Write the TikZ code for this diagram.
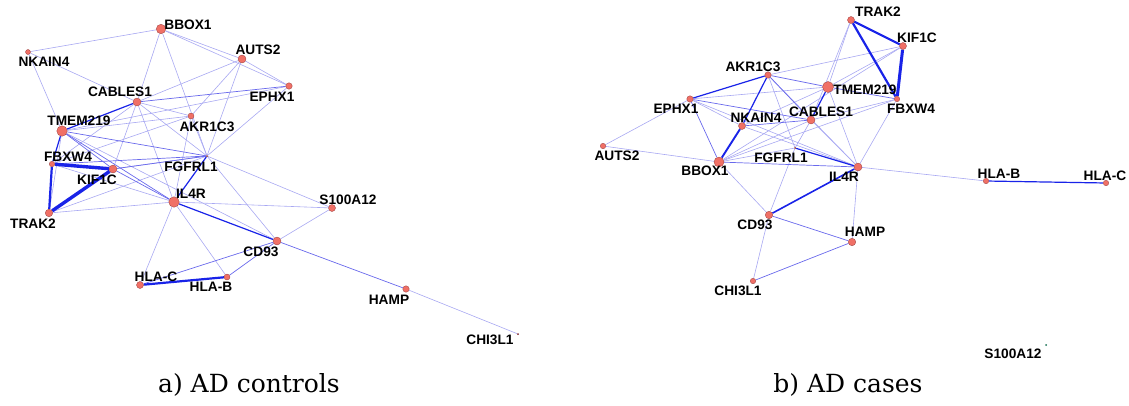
\documentclass[tikz,border=0pt]{standalone}
\usepackage{fontspec}
\newfontfamily\labfont{Liberation Sans}
\newfontfamily\capfont{DejaVu Serif}
\pgfdeclarelayer{bg}
\pgfsetlayers{bg,main}
\definecolor{edgelight}{RGB}{168,168,242}
\definecolor{edgemid}{RGB}{105,105,236}
\definecolor{edgestrong}{RGB}{25,35,232}
\definecolor{dotfill}{RGB}{240,112,102}
\definecolor{dotline}{RGB}{150,60,60}
\definecolor{tinyred}{RGB}{120,30,40}
\definecolor{tinygreen}{RGB}{20,110,80}
\tikzset{
  dot/.style={circle, draw=dotline, line width=0.3pt, fill=dotfill, inner sep=0pt},
  tinydot/.style={circle, fill=#1, inner sep=0pt, minimum size=2pt},
  lab/.style={font=\labfont\bfseries\fontsize{13.7}{13.7}\selectfont, inner sep=0pt, text=black},
  captext/.style={font=\capfont\fontsize{25}{25}\selectfont, inner sep=0pt, anchor=base, text=black},
  ea/.style={draw=edgelight, line width=0.6pt},
  eb/.style={draw=edgemid, line width=0.7pt},
  ec/.style={draw=edgestrong, line width=1.2pt},
  ed/.style={draw=edgestrong, line width=2.2pt},
  ee/.style={draw=edgestrong, line width=3.4pt},
}
\begin{document}
\begin{tikzpicture}[x=1pt,y=-1pt]
\useasboundingbox (0,0) rectangle (1129,405);

% ---------- a) AD controls: genes ----------
\foreach \n/\x/\y/\s in {
  BBOX1/161/29/9.5, NKAIN4/28/52/5, AUTS2/242/59/8, EPHX1/289/86/6.5,
  CABLES1/137/102/8, AKR1C3/191/116/6, TMEM219/62/131/10.5,
  FBXW4/52/164/5.5, KIF1C/113/169/8, IL4R/174/202/10.5, TRAK2/49/213/7.5,
  S100A12/332/208/7, CD93/277/241/8, HLAC/140/285/7, HLAB/227/277/6,
  HAMP/406/289/6.5}
  \node[dot, minimum size=\s pt] (a\n) at (\x,\y) {};
\node[tinydot=tinyred!70!dotline] (aFGFRL1) at (207,156) {};
\node[tinydot=tinyred] (aCHI3L1) at (518,334) {};

\foreach \n/\t/\x/\y in {
  BBOX1/BBOX1/188/25, NKAIN4/NKAIN4/44/62, AUTS2/AUTS2/258/50,
  EPHX1/EPHX1/272/97, CABLES1/CABLES1/120/92, AKR1C3/AKR1C3/207/127,
  TMEM219/TMEM219/79/121, FBXW4/FBXW4/68/157, FGFRL1/FGFRL1/191/167,
  KIF1C/KIF1C/97/180, IL4R/IL4R/191/194, TRAK2/TRAK2/33/224,
  S100A12/S100A12/348/200, CD93/CD93/261/252, HLAC/HLA-C/156/277,
  HLAB/HLA-B/211/287, HAMP/HAMP/389/300, CHI3L1/CHI3L1/490/340}
  \node[lab] (a\n-l) at (\x,\y) {\t};

% ---------- b) AD cases: genes ----------
\foreach \n/\x/\y/\s in {
  TRAK2/851/20/7, KIF1C/903/46/7, AKR1C3/768/75/6.5, TMEM219/828/87/11,
  EPHX1/690/99/6.5, FBXW4/897/99/5.5, CABLES1/811/120/8, NKAIN4/742/126/7,
  AUTS2/603/146/5.5, BBOX1/719/162/10, IL4R/858/167/8, HLAB/986/181/5.5,
  HLAC/1106/183/5.5, CD93/769/215/7.5, HAMP/852/242/7.5, CHI3L1/753/281/5.5}
  \node[dot, minimum size=\s pt] (b\n) at (\x,\y) {};
\node[tinydot=tinyred!70!dotline] (bFGFRL1) at (795,148) {};
\node[tinydot=tinygreen] (bS100A12) at (1046,345) {};

\foreach \n/\t/\x/\y in {
  TRAK2/TRAK2/878/12, KIF1C/KIF1C/917/38, AKR1C3/AKR1C3/753/67,
  TMEM219/TMEM219/865/90, EPHX1/EPHX1/676/109, FBXW4/FBXW4/911/109,
  CABLES1/CABLES1/821/112, NKAIN4/NKAIN4/756/118, AUTS2/AUTS2/617/156,
  FGFRL1/FGFRL1/781/158, BBOX1/BBOX1/705/171, IL4R/IL4R/844/177,
  HLAB/HLA-B/999/174, HLAC/HLA-C/1105/176, CD93/CD93/755/225,
  HAMP/HAMP/865/232, CHI3L1/CHI3L1/738/291, S100A12/S100A12/1013/354}
  \node[lab] (b\n-l) at (\x,\y) {\t};

% ---------- co-expression edges ----------
\begin{pgfonlayer}{bg}
% a) weak links
\foreach \u/\v in {
  BBOX1/NKAIN4, BBOX1/AUTS2, BBOX1/EPHX1, BBOX1/CABLES1, BBOX1/FGFRL1,
  NKAIN4/TMEM219, NKAIN4/CABLES1, AUTS2/EPHX1, AUTS2/CABLES1, AUTS2/AKR1C3,
  AUTS2/FGFRL1, EPHX1/TMEM219, EPHX1/FGFRL1, CABLES1/AKR1C3,
  CABLES1/FGFRL1, CABLES1/IL4R, CABLES1/FBXW4, CABLES1/KIF1C,
  TMEM219/AKR1C3, TMEM219/TRAK2, AKR1C3/FGFRL1, AKR1C3/IL4R, AKR1C3/FBXW4,
  FGFRL1/KIF1C, FGFRL1/TRAK2, FGFRL1/CD93, FGFRL1/S100A12, FBXW4/IL4R,
  TRAK2/IL4R, IL4R/HLAC, IL4R/HLAB, IL4R/S100A12, CD93/S100A12,
  HAMP/CHI3L1, TMEM219/CD93}
  \draw[ea] (a\u) -- (a\v);
% a) moderate links
\foreach \u/\v in {
  EPHX1/CABLES1, TMEM219/FGFRL1, TMEM219/IL4R, TMEM219/KIF1C,
  KIF1C/IL4R, CD93/HLAC, CD93/HLAB, CD93/HAMP, FBXW4/FGFRL1, KIF1C/FGFRL1}
  \draw[eb] (a\u) -- (a\v);
\draw[ec] (aCABLES1) -- (aTMEM219);
\draw[ec] (aTMEM219) -- (aFBXW4);
\draw[ec] (aFGFRL1) -- (aIL4R);
\draw[ec] (aIL4R) -- (aCD93);
\draw[ed] (aFBXW4) -- (aTRAK2);
\draw[ed] (aHLAC) -- (aHLAB);
\draw[ee] (aFBXW4) -- (aKIF1C);
\draw[ee] (aKIF1C) -- (aTRAK2);

% b) weak links
\foreach \u/\v in {
  TRAK2/TMEM219, TRAK2/CABLES1, KIF1C/AKR1C3, KIF1C/BBOX1, KIF1C/TMEM219,
  AKR1C3/FGFRL1, AKR1C3/IL4R, EPHX1/AUTS2, EPHX1/TMEM219, EPHX1/NKAIN4,
  EPHX1/IL4R, AUTS2/BBOX1, NKAIN4/IL4R, NKAIN4/TMEM219, CABLES1/FGFRL1,
  CABLES1/BBOX1, CABLES1/IL4R, CABLES1/FBXW4, FGFRL1/BBOX1, FGFRL1/CD93,
  BBOX1/CD93, BBOX1/FBXW4, IL4R/HAMP, IL4R/HLAB, IL4R/FBXW4, TMEM219/IL4R,
  CD93/CHI3L1}
  \draw[ea] (b\u) -- (b\v);
% b) moderate links
\foreach \u/\v in {
  EPHX1/CABLES1, AKR1C3/CABLES1, AKR1C3/TMEM219, EPHX1/BBOX1,
  NKAIN4/CABLES1, CD93/HAMP, HAMP/CHI3L1, BBOX1/IL4R, TMEM219/FBXW4}
  \draw[eb] (b\u) -- (b\v);
\draw[ec] (bHLAB) -- (bHLAC);
\draw[ec] (bFGFRL1) -- (bIL4R);
\draw[ec] (bAKR1C3) -- (bEPHX1);
\draw[ec] (bAKR1C3) -- (bNKAIN4);
\draw[ec] (bTMEM219) -- (bCABLES1);
\draw[ec, line width=1.6pt] (bIL4R) -- (bCD93);
\draw[ed, line width=1.9pt] (bNKAIN4) -- (bBBOX1);
\draw[ed] (bTRAK2) -- (bKIF1C);
\draw[ed] (bTRAK2) -- (bFBXW4);
\draw[ee, line width=3pt] (bKIF1C) -- (bFBXW4);
\end{pgfonlayer}

% ---------- panel captions ----------
\node[captext] (capA) at (249,392) {a) AD controls};
\node[captext] (capB) at (848,392) {b) AD cases};
\end{tikzpicture}
\end{document}
